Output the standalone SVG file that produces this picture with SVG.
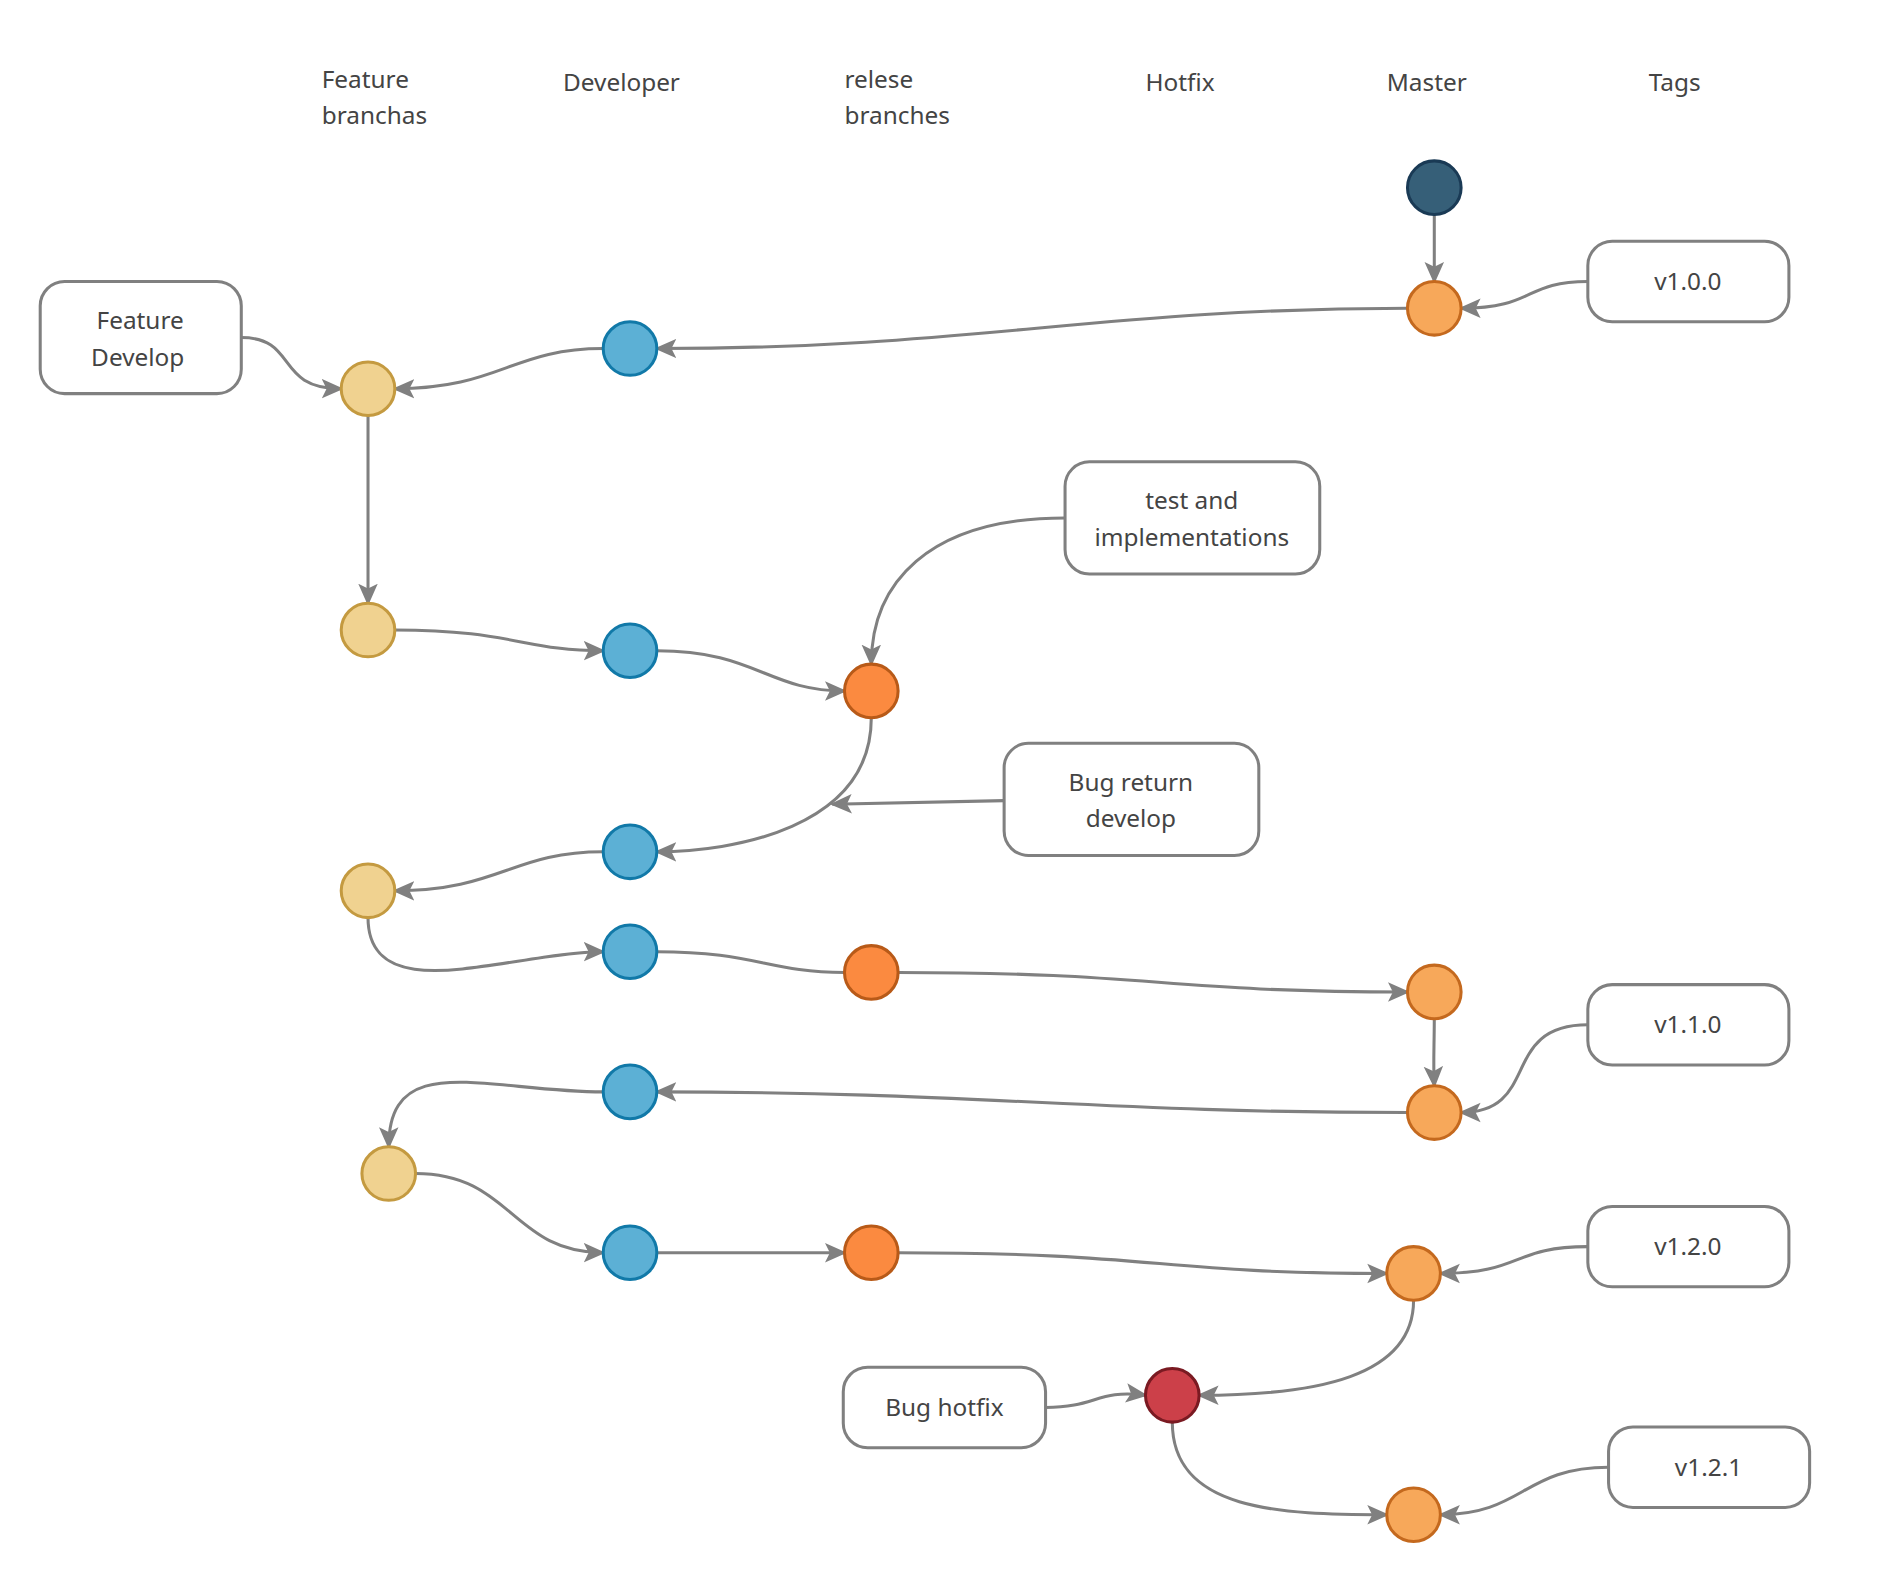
<svg xmlns="http://www.w3.org/2000/svg" width="1901" height="1575" viewBox="0 0 1901 1575">
<style>
text{font-family:"Noto Sans","Open Sans",sans-serif;font-size:20px;fill:#444}
.c{text-anchor:middle}
.e{fill:none;stroke:#808080;stroke-width:2.5}
.a{marker-end:url(#arr)}
.b{fill:#fff;stroke:#808080;stroke-width:2.5}
.y{fill:#f0d290;stroke:#c49a40;stroke-width:2.5}
.d{fill:#5cb0d5;stroke:#1179a8;stroke-width:2.5}
.r{fill:#fb8a40;stroke:#b85a18;stroke-width:2.5}
.m{fill:#f7a85a;stroke:#c4691e;stroke-width:2.5}
.h{fill:#cc4049;stroke:#7a1a22;stroke-width:2.5}
.k{fill:#365f78;stroke:#1a3a55;stroke-width:2.5}
</style>
<defs><marker id="arr" markerUnits="userSpaceOnUse" markerWidth="20" markerHeight="20" refX="16" refY="8" orient="auto" viewBox="0 0 20 16"><path d="M0,0 L18,8 L0,16 L4,8 Z" fill="#808080"/></marker></defs>
<rect width="1901" height="1575" fill="#fff"/>
<g transform="scale(1.2186)">
<g id="headers">
<text x="264" y="72">Feature</text><text x="264" y="102">branchas</text>
<text x="462" y="75">Developer</text>
<text x="693" y="72">relese</text><text x="693" y="102">branches</text>
<text x="940" y="75">Hotfix</text>
<text x="1138" y="75">Master</text>
<text x="1353" y="75">Tags</text>
</g>
<g id="connectors">
<path class="e a" d="M1177,176 L1177,231"/>
<path class="e a" d="M1303,231 C1250,231 1260,253 1199,253"/>
<path class="e a" d="M1155,253 C900,253 800,286 539,286"/>
<path class="e a" d="M495,286 C420,286 410,319 324,319"/>
<path class="e a" d="M198,277 C245,277 225,319 280,319"/>
<path class="e a" d="M302,341 L302,495"/>
<path class="e a" d="M324,517 C420,517 430,534 495,534"/>
<path class="e a" d="M539,534 C620,534 630,567 693,567"/>
<path class="e a" d="M874,425 C760,425 715,480 715,545"/>
<path class="e a" d="M715,589 C715,680 600,699 539,699"/>
<path class="e a" d="M824,657 L683,660"/>
<path class="e a" d="M495,699 C420,699 410,731 324,731"/>
<path class="e a" d="M302,753 C302,830 420,781 495,781"/>
<path class="e" d="M539,781 C620,781 630,798 693,798"/>
<path class="e a" d="M737,798 C950,798 950,814 1155,814"/>
<path class="e a" d="M1177,836 C1177,860 1176,870 1177,891"/>
<path class="e a" d="M1303,841 C1230,841 1265,913 1199,913"/>
<path class="e a" d="M1155,913 C900,913 800,896 539,896"/>
<path class="e a" d="M495,896 C400,896 319,860 319,941"/>
<path class="e a" d="M341,963 C420,963 420,1028 495,1028"/>
<path class="e a" d="M539,1028 L693,1028"/>
<path class="e a" d="M737,1028 C950,1028 950,1045 1138,1045"/>
<path class="e a" d="M1303,1023 C1240,1023 1250,1045 1182,1045"/>
<path class="e a" d="M1160,1067 C1160,1130 1080,1145 984,1145"/>
<path class="e a" d="M858,1155 C900,1155 900,1140 940,1145"/>
<path class="e a" d="M962,1167 C962,1240 1050,1243 1138,1243"/>
<path class="e a" d="M1320,1204 C1250,1204 1250,1243 1182,1243"/>
</g>
<g id="master">
<circle class="k" cx="1177" cy="154" r="22"/>
<circle class="m" cx="1177" cy="253" r="22"/>
<circle class="m" cx="1177" cy="814" r="22"/>
<circle class="m" cx="1177" cy="913" r="22"/>
<circle class="m" cx="1160" cy="1045" r="22"/>
<circle class="m" cx="1160" cy="1243" r="22"/>
</g>
<g id="developer">
<circle class="d" cx="517" cy="286" r="22"/>
<circle class="d" cx="517" cy="534" r="22"/>
<circle class="d" cx="517" cy="699" r="22"/>
<circle class="d" cx="517" cy="781" r="22"/>
<circle class="d" cx="517" cy="896" r="22"/>
<circle class="d" cx="517" cy="1028" r="22"/>
</g>
<g id="feature">
<circle class="y" cx="302" cy="319" r="22"/>
<circle class="y" cx="302" cy="517" r="22"/>
<circle class="y" cx="302" cy="731" r="22"/>
<circle class="y" cx="319" cy="963" r="22"/>
</g>
<g id="release">
<circle class="r" cx="715" cy="567" r="22"/>
<circle class="r" cx="715" cy="798" r="22"/>
<circle class="r" cx="715" cy="1028" r="22"/>
</g>
<g id="hotfix"><circle class="h" cx="962" cy="1145" r="22"/></g>
<g id="tag100"><rect class="b" x="1303" y="198" width="165" height="66" rx="20"/><text class="c" x="1385" y="238">v1.0.0</text></g>
<g id="tag110"><rect class="b" x="1303" y="808" width="165" height="66" rx="20"/><text class="c" x="1385" y="848">v1.1.0</text></g>
<g id="tag120"><rect class="b" x="1303" y="990" width="165" height="66" rx="20"/><text class="c" x="1385" y="1030">v1.2.0</text></g>
<g id="tag121"><rect class="b" x="1320" y="1171" width="165" height="66" rx="20"/><text class="c" x="1402" y="1211">v1.2.1</text></g>
<g id="featdev"><rect class="b" x="33" y="231" width="165" height="92" rx="20"/><text class="c" x="115" y="270">Feature</text><text class="c" x="113" y="300">Develop</text></g>
<g id="test"><rect class="b" x="874" y="379" width="209" height="92" rx="20"/><text class="c" x="978" y="418">test and</text><text class="c" x="978" y="448">implementations</text></g>
<g id="bugret"><rect class="b" x="824" y="610" width="209" height="92" rx="20"/><text class="c" x="928" y="649">Bug return</text><text class="c" x="928" y="679">develop</text></g>
<g id="bughot"><rect class="b" x="692" y="1122" width="166" height="66" rx="20"/><text class="c" x="775" y="1162">Bug hotfix</text></g>
</g>
</svg>
